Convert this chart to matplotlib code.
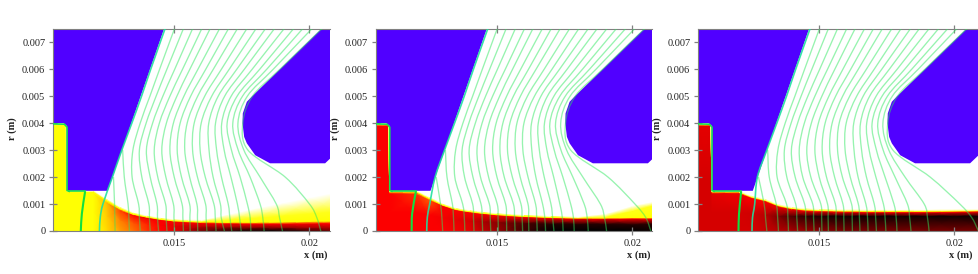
from __future__ import annotations

import matplotlib
matplotlib.use("Agg")
import matplotlib.pyplot as plt
import numpy as np
from matplotlib.colors import LinearSegmentedColormap
from matplotlib.patches import PathPatch, Polygon
from matplotlib.path import Path

nan = float("nan")

# all lengths in mm, converted to metres when drawn
CATHODE_X = [10.4, 14.65, 12.53, 11.01, 11.01, 10.89, 10.4]
CATHODE_R = [7.6, 7.6, 1.49, 1.49, 3.9, 4.0, 4.0]
ANODE_X = [20.55, 17.86, 17.68, 17.53, 17.52, 17.58, 17.68, 17.99, 18.54, 20.58, 21.2, 21.2]
ANODE_R = [7.6, 4.98, 4.79, 4.36, 3.99, 3.49, 3.25, 2.81, 2.51, 2.51, 3.1, 7.6]

SURFACE_X = [10.5, 10.92, 11.02, 11.02, 11.1]
SURFACE_R = [3.97, 3.96, 3.85, 1.5, 1.47]

BRIGHT_X = [
    [11.69, 11.57, 11.53],
    [11.99, 11.85, 11.83],
    [12.10, 12.02, 12.00],
]
BRIGHT_R = [1.47, 0.65, 0.0]

# streamlines: x position of each line at the r levels below
LEVELS_UPPER = [7.5, 6.0, 5.0, 4.0, 3.0, 2.0]
LEVELS_LOWER = [1.0, 0.5, 0.0]
LINES_UPPER = [
    [14.65, nan, nan, 15.00, 15.33, 15.67, 16.01, 16.32, 16.67, 17.00, 17.33, 17.68, 18.02, 18.37, 18.70, 19.06, 19.41, 19.75, 20.09, 20.46],
    [14.12, nan, nan, 14.45, 14.72, 15.01, 15.30, 15.57, 15.87, 16.16, 16.44, 16.74, 17.03, 17.31, 17.59, 17.88, 18.16, 18.42, 18.66, 18.91],
    [13.78, nan, nan, 14.09, 14.32, 14.57, 14.83, 15.09, 15.35, 15.60, 15.86, 16.12, 16.38, 16.62, 16.86, 17.10, 17.32, 17.52, 17.70, 17.89],
    [13.42, nan, nan, 13.73, 13.95, 14.19, 14.44, 14.70, 14.96, 15.21, 15.47, 15.73, 15.99, 16.27, 16.52, 16.75, 16.95, 17.16, 17.35, 17.53],
    [13.05, nan, 13.08, 13.46, 13.70, 13.96, 14.25, 14.53, 14.83, 15.10, 15.38, 15.67, 15.95, 16.28, 16.56, 16.84, 17.11, 17.36, 17.57, 17.72],
    [12.70, 12.74, 13.14, 13.43, 13.79, 14.10, 14.38, 14.68, 14.99, 15.26, 15.56, 15.85, 16.14, 16.43, 16.74, 17.09, 17.43, 17.80, 18.17, 19.10],
]
LINES_LOWER_1 = [
    [12.35, 12.78, 13.28, 13.67, 14.05, 14.35, 14.67, 14.96, 15.28, 15.56, 15.83, 16.15, 16.46, 16.70, 16.99, 17.33, 17.70, 18.17, 18.77, 20.00],
    [12.25, 12.79, 13.31, 13.70, 14.07, 14.37, 14.69, 14.98, 15.31, 15.57, 15.85, 16.17, 16.51, 16.73, 17.05, 17.41, 17.80, 18.27, 18.89, 20.27],
    [12.22, 12.80, 13.33, 13.73, 14.10, 14.41, 14.72, 15.00, 15.33, 15.58, 15.86, 16.20, 16.54, 16.85, 17.12, 17.47, 17.83, 18.32, 19.00, 20.42],
]
LINES_LOWER_2 = [
    [12.50, 12.90, 13.34, 13.72, 14.09, 14.40, 14.71, 15.00, 15.31, 15.60, 15.88, 16.14, 16.42, 16.68, 16.99, 17.32, 17.72, 18.22, 18.82, 20.10],
    [12.41, 12.95, 13.38, 13.78, 14.12, 14.44, 14.74, 15.03, 15.34, 15.64, 15.92, 16.16, 16.46, 16.76, 17.05, 17.41, 17.82, 18.33, 18.97, 20.50],
    [12.39, 12.98, 13.40, 13.80, 14.14, 14.46, 14.76, 15.04, 15.35, 15.66, 15.94, 16.17, 16.48, 16.79, 17.10, 17.44, 17.85, 18.37, 19.05, 20.69],
]
LINES_LOWER_3 = [
    [12.60, 12.95, 13.40, 13.78, 14.12, 14.45, 14.75, 15.05, 15.30, 15.59, 15.87, 16.19, 16.44, 16.72, 17.03, 17.37, 17.76, 18.26, 18.88, 20.20],
    [12.52, 13.00, 13.45, 13.83, 14.16, 14.49, 14.78, 15.08, 15.32, 15.61, 15.90, 16.21, 16.48, 16.78, 17.08, 17.43, 17.84, 18.34, 19.00, 20.64],
    [12.50, 13.05, 13.48, 13.85, 14.19, 14.51, 14.80, 15.09, 15.33, 15.62, 15.91, 16.22, 16.50, 16.80, 17.11, 17.46, 17.87, 18.39, 19.06, 20.89],
]

# temperature-like field: heights of the layers and value at each height
FIELD_X = [10.5, 10.98, 11.02, 12.0, 12.5, 13.0, 13.5, 14.0, 14.5, 15.0, 16.0, 17.0, 18.0, 19.0, 20.0, 21.0]

HEIGHTS_1 = [
    [2.0, 2.0, 0.7, 0.7, 0.55, 0.4, 0.3, 0.25, 0.22, 0.2, 0.18, 0.16, 0.15, 0.14, 0.13, 0.13],
    [3.9, 3.9, 1.4, 1.4, 1.05, 0.76, 0.58, 0.49, 0.41, 0.35, 0.30, 0.28, 0.27, 0.27, 0.28, 0.28],
    [3.95, 3.95, 1.46, 1.46, 1.12, 0.82, 0.62, 0.52, 0.44, 0.38, 0.34, 0.33, 0.33, 0.34, 0.36, 0.38],
    [3.96, 3.96, 1.47, 1.47, 1.15, 0.85, 0.65, 0.54, 0.46, 0.40, 0.36, 0.42, 0.50, 0.58, 0.66, 0.74],
    [3.97, 3.97, 1.48, 1.48, 1.18, 0.88, 0.67, 0.56, 0.48, 0.42, 0.40, 0.60, 0.82, 1.02, 1.22, 1.42],
]
VALUES_1 = [
    [0.33, 0.33, 0.33, 0.33, 0.38, 0.46, 0.52, 0.60, 0.66, 0.70, 0.85, 0.95, 1.0, 1.0, 0.92, 0.85],
    [0.33, 0.33, 0.33, 0.33, 0.40, 0.50, 0.56, 0.62, 0.67, 0.70, 0.75, 0.78, 0.80, 0.80, 0.78, 0.76],
    [0.33, 0.33, 0.33, 0.33, 0.42, 0.58, 0.66, 0.68, 0.67, 0.67, 0.67, 0.67, 0.67, 0.67, 0.67, 0.67],
    [0.33] * 16,
    [0.30] * 16,
    [0.0] * 16,
]

HEIGHTS_2 = [
    [1.95, 1.95, 0.7, 0.7, 0.6, 0.5, 0.42, 0.38, 0.35, 0.32, 0.29, 0.27, 0.26, 0.26, 0.25, 0.25],
    [3.9, 3.9, 1.4, 1.38, 1.15, 0.93, 0.77, 0.69, 0.63, 0.58, 0.52, 0.48, 0.46, 0.46, 0.46, 0.46],
    [3.95, 3.95, 1.46, 1.46, 1.2, 0.96, 0.80, 0.72, 0.66, 0.61, 0.55, 0.51, 0.49, 0.49, 0.50, 0.50],
    [3.96, 3.96, 1.47, 1.47, 1.22, 0.98, 0.82, 0.74, 0.68, 0.63, 0.57, 0.53, 0.50, 0.52, 0.75, 1.0],
    [3.97, 3.97, 1.48, 1.48, 1.25, 1.0, 0.84, 0.76, 0.70, 0.65, 0.59, 0.55, 0.52, 0.62, 0.92, 1.12],
]
VALUES_2 = [
    [0.67, 0.67, 0.67, 0.67, 0.67, 0.67, 0.68, 0.70, 0.75, 0.80, 0.92, 1.0, 1.0, 1.0, 1.0, 0.97],
    [0.67, 0.67, 0.67, 0.67, 0.67, 0.68, 0.70, 0.72, 0.78, 0.82, 0.90, 0.95, 0.95, 0.95, 0.95, 0.95],
    [0.67, 0.67, 0.67, 0.60, 0.55, 0.67, 0.67, 0.67, 0.67, 0.67, 0.67, 0.67, 0.67, 0.67, 0.67, 0.67],
    [0.33] * 16,
    [0.30] * 16,
    [0.0] * 16,
]

HEIGHTS_3 = [
    [1.9, 1.9, 0.7, 0.7, 0.65, 0.6, 0.55, 0.55, 0.55, 0.55, 0.55, 0.55, 0.55, 0.55, 0.55, 0.55],
    [3.9, 3.9, 1.4, 1.4, 1.22, 1.10, 0.90, 0.80, 0.75, 0.73, 0.71, 0.70, 0.70, 0.70, 0.71, 0.72],
    [3.95, 3.95, 1.46, 1.46, 1.26, 1.14, 0.94, 0.84, 0.79, 0.77, 0.75, 0.74, 0.74, 0.74, 0.75, 0.76],
    [3.96, 3.96, 1.47, 1.47, 1.28, 1.16, 0.96, 0.86, 0.81, 0.79, 0.77, 0.76, 0.76, 0.76, 0.77, 0.78],
    [3.97, 3.97, 1.48, 1.48, 1.30, 1.18, 0.98, 0.88, 0.83, 0.81, 0.79, 0.78, 0.78, 0.78, 0.79, 0.80],
]
VALUES_3 = [
    [0.72, 0.72, 0.72, 0.72, 0.72, 0.74, 0.76, 0.78, 0.80, 0.82, 0.84, 0.84, 0.84, 0.84, 0.84, 0.84],
    [0.72, 0.72, 0.72, 0.72, 0.73, 0.76, 0.84, 0.90, 0.94, 0.96, 0.98, 0.98, 0.98, 0.98, 0.98, 0.98],
    [0.70, 0.70, 0.70, 0.68, 0.67, 0.67, 0.68, 0.68, 0.67, 0.67, 0.67, 0.67, 0.67, 0.67, 0.67, 0.67],
    [0.33] * 16,
    [0.20] * 16,
    [0.0] * 16,
]

R_TICKS = [0, 1, 2, 3, 4, 5, 6, 7]
R_LABELS = ["0", "0.001", "0.002", "0.003", "0.004", "0.005", "0.006", "0.007"]
X_TICKS = [15, 20]
X_LABELS = ["0.015", "0.02"]

BLUE = "#5000ff"
GREY = "#808080"
W, H = 979, 274
FIELD_CMAP = LinearSegmentedColormap.from_list("field", ["white", "yellow", "red", "black"])

plt.rcParams["font.family"] = ["Liberation Serif", "DejaVu Serif"]


def smooth_path(xs: np.ndarray, rs: np.ndarray) -> Path:
    pts = np.column_stack([xs, rs])
    tang = np.gradient(pts, axis=0) / 3.0
    verts = [pts[0]]
    codes = [Path.MOVETO]
    for i in range(len(pts) - 1):
        verts += [pts[i] + tang[i], pts[i + 1] - tang[i + 1], pts[i + 1]]
        codes += [Path.CURVE4] * 3
    return Path(np.array(verts) / 1000.0, codes)


def draw_panel(fig, left_px, right_px, xmax, heights, values, lower, bright_x):
    ax = fig.add_axes([left_px / W, 1 - 231 / H, (right_px - left_px) / W, (231 - 28.7) / H])

    x = np.array(FIELD_X)
    grid_x = np.tile(x, (len(values), 1)) / 1000.0
    grid_r = np.vstack([np.zeros(len(x)), np.array(heights)]) / 1000.0
    ax.pcolormesh(grid_x, grid_r, np.array(values), cmap=FIELD_CMAP, vmin=0, vmax=1, shading="gouraud", zorder=1)

    ax.add_patch(Polygon(np.column_stack([CATHODE_X, CATHODE_R]) / 1000.0, fc=BLUE, ec="none", zorder=2))
    ax.add_patch(Polygon(np.column_stack([ANODE_X, ANODE_R]) / 1000.0, fc=BLUE, ec="none", zorder=2))

    table = np.vstack([np.array(LINES_UPPER), np.array(lower)])
    levels = np.array(LEVELS_UPPER + LEVELS_LOWER)
    for j in range(table.shape[1]):
        keep = ~np.isnan(table[:, j])
        edge = j == 0
        ax.add_patch(PathPatch(
            smooth_path(table[keep, j], levels[keep]), fc="none",
            ec="#20e0a0" if edge else "#30e860", lw=1.2 if edge else 0.95, alpha=0.9 if edge else 0.5, zorder=3,
        ))

    ax.plot(np.array(SURFACE_X) / 1000.0, np.array(SURFACE_R) / 1000.0, color="#18e050", lw=1.2, zorder=4)
    ax.plot([SURFACE_X[-1] / 1000.0, bright_x[0] / 1000.0], [SURFACE_R[-1] / 1000.0, BRIGHT_R[0] / 1000.0],
            color="#18e050", lw=1.2, zorder=4)
    ax.add_patch(PathPatch(smooth_path(np.array(bright_x), np.array(BRIGHT_R)), fc="none", ec="#10e040", lw=1.5, zorder=4))

    ax.set_xlim(0.0105, xmax)
    ax.set_ylim(0, 0.0075)
    ax.set_xticks(np.array(X_TICKS) / 1000.0, X_LABELS)
    ax.set_yticks(np.array(R_TICKS) / 1000.0, R_LABELS)
    ax.tick_params(axis="both", direction="inout", length=6, width=0.9, color=GREY, labelsize=7.5,
                   labelcolor="#222222", top=True, pad=2.5)
    ax.tick_params(axis="x", pad=3)
    ax.spines["right"].set_visible(False)
    for name in ["top", "left", "bottom"]:
        ax.spines[name].set_color(GREY)
        ax.spines[name].set_linewidth(0.8)

    fig.text((left_px - 41) / W, 1 - 129 / H, "r (m)", rotation=90, fontsize=7.5, weight="bold",
             color="#222222", ha="center", va="center")
    fig.text((left_px + 263) / W, 1 - 255 / H, "x (m)", fontsize=7.5, weight="bold",
             color="#222222", ha="center", va="center")


def main() -> None:
    fig = plt.figure(figsize=(W / 100, H / 100), dpi=100)
    draw_panel(fig, 53, 330, 0.02076, HEIGHTS_1, VALUES_1, LINES_LOWER_1, BRIGHT_X[0])
    draw_panel(fig, 375.7, 651.7, 0.02072, HEIGHTS_2, VALUES_2, LINES_LOWER_2, BRIGHT_X[1])
    draw_panel(fig, 698, 979, 0.02091, HEIGHTS_3, VALUES_3, LINES_LOWER_3, BRIGHT_X[2])
    fig.savefig("out.png", dpi=100)
    plt.close(fig)


if __name__ == "__main__":
    main()
